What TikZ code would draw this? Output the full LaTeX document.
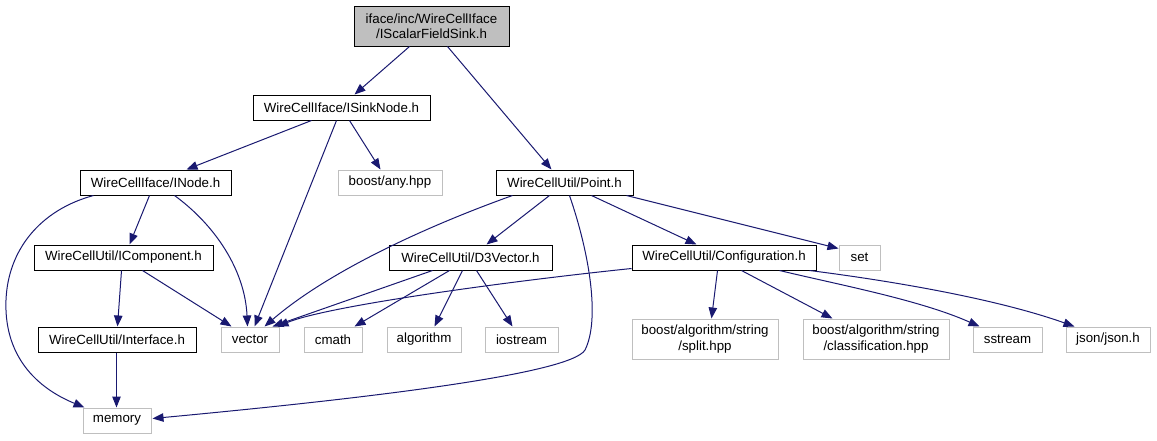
\documentclass[tikz,border=0pt]{standalone}
\usepackage{fontspec}
\setmainfont{Liberation Sans}
\usetikzlibrary{arrows.meta,calc}
\definecolor{edgeblue}{HTML}{191970}
\definecolor{boxgray}{HTML}{BFBFBF}
\tikzset{
  base/.style={inner sep=0pt, font=\fontsize{13.3}{15.5}\selectfont, align=center, fill=white},
  blk/.style={base, draw=black, line width=1pt},
  gry/.style={base, draw=boxgray, line width=1pt},
  topbox/.style={blk, fill=boxgray},
  dep/.style={draw=edgeblue, line width=1pt, -{Triangle[length=11pt,width=8.5pt]}, fill=none}
}
\begin{document}
\begin{tikzpicture}[x=1pt,y=-1pt]
\useasboundingbox (0,0) rectangle (1157,440);
% nodes (centre, size)
\node[topbox, minimum width=155pt, minimum height=40pt] (top) at (431.5,26) {iface/inc/WireCellIface\\/IScalarFieldSink.h};
\node[blk, minimum width=177pt, minimum height=25pt] (sink) at (341.5,107.5) {WireCellIface/ISinkNode.h};
\node[blk, minimum width=151pt, minimum height=25pt] (inode) at (155.5,182.5) {WireCellIface/INode.h};
\node[gry, minimum width=104pt, minimum height=25pt] (any) at (390,182.5) {boost/any.hpp};
\node[blk, minimum width=137pt, minimum height=25pt] (point) at (564.5,182.5) {WireCellUtil/Point.h};
\node[blk, minimum width=179pt, minimum height=25pt] (icomp) at (123.5,257.5) {WireCellUtil/IComponent.h};
\node[blk, minimum width=163pt, minimum height=25pt] (d3v) at (470.5,257.5) {WireCellUtil/D3Vector.h};
\node[blk, minimum width=184pt, minimum height=25pt] (conf) at (724,257.5) {WireCellUtil/Configuration.h};
\node[gry, minimum width=41pt, minimum height=25pt] (set) at (859.5,257.5) {set};
\node[blk, minimum width=158pt, minimum height=25pt] (iface) at (117,339.5) {WireCellUtil/Interface.h};
\node[gry, minimum width=58pt, minimum height=25pt] (vector) at (250,339.5) {vector};
\node[gry, minimum width=58pt, minimum height=25pt] (cmath) at (333,339.5) {cmath};
\node[gry, minimum width=74pt, minimum height=25pt] (algorithm) at (424,339.5) {algorithm};
\node[gry, minimum width=73pt, minimum height=25pt] (iostream) at (521.5,339.5) {iostream};
\node[gry, minimum width=146pt, minimum height=40pt] (split) at (705,339) {boost/algorithm/string\\/split.hpp};
\node[gry, minimum width=146pt, minimum height=40pt] (classif) at (876,339) {boost/algorithm/string\\/classification.hpp};
\node[gry, minimum width=69pt, minimum height=25pt] (sstream) at (1007.5,339.5) {sstream};
\node[gry, minimum width=84pt, minimum height=25pt] (json) at (1108,339.5) {json/json.h};
\node[gry, minimum width=68pt, minimum height=25pt] (memory) at (117,420.5) {memory};
% edges
\draw[dep] ($(top.south west)+(56,0)$) -- ($(sink.north west)+(102,0)$);
\draw[dep] ($(top.south west)+(94,0)$) -- ($(point.north west)+(56,0)$);
\draw[dep] ($(sink.south west)+(59,0)$) -- ($(inode.north west)+(107,0)$);
\draw[dep] ($(sink.south west)+(97,0)$) -- ($(any.north west)+(43,0)$);
\draw[dep] ($(sink.south west)+(84,0)$) -- ($(vector.north west)+(34,0)$);
\draw[dep] ($(inode.south west)+(70,0)$) -- ($(icomp.north west)+(96,0)$);
\draw[dep] ($(inode.south west)+(95,0)$) .. controls (215,225) and (245,270) .. ($(vector.north west)+(27,0)$);
\draw[dep] ($(inode.south west)+(14,0)$) .. controls (40,210) and (8,250) .. (6,300) .. controls (4,350) and (30,385) .. ($(memory.north west)+(2,0)$);
\draw[dep] ($(icomp.south west)+(88,0)$) -- ($(iface.north west)+(80,0)$);
\draw[dep] ($(icomp.south west)+(109,0)$) -- ($(vector.north west)+(11,0)$);
\draw[dep] ($(iface.south west)+(79,0)$) -- ($(memory.north west)+(34,0)$);
\draw[dep] ($(point.south west)+(17,0)$) .. controls (430,225) and (330,270) .. ($(vector.north west)+(44,0)$);
\draw[dep] ($(point.south west)+(54,0)$) -- ($(d3v.north west)+(98,0)$);
\draw[dep] ($(point.south west)+(74,0)$) .. controls (590,255) and (600,320) .. (585,350) .. controls (570,375) and (350,400) .. ($(memory.east)+(1,-2)$);
\draw[dep] ($(point.south west)+(96,0)$) -- ($(conf.north west)+(65,0)$);
\draw[dep] ($(point.south west)+(131,0)$) -- ($(set.north west)+(0,4)$);
\draw[dep] ($(d3v.south west)+(44,0)$) -- ($(vector.north west)+(52,0)$);
\draw[dep] ($(d3v.south west)+(61,0)$) -- ($(cmath.north west)+(51,0)$);
\draw[dep] ($(d3v.south west)+(74,0)$) -- ($(algorithm.north west)+(48,0)$);
\draw[dep] ($(d3v.south west)+(88,0)$) -- ($(iostream.north west)+(28,0)$);
\draw[dep] ($(conf.south west)+(0,-2)$) .. controls (520,280) and (330,305) .. ($(vector.north west)+(57,0)$);
\draw[dep] ($(conf.south west)+(86,0)$) -- ($(split.north west)+(80,0)$);
\draw[dep] ($(conf.south west)+(110,0)$) -- ($(classif.north west)+(30,0)$);
\draw[dep] ($(conf.south west)+(148,0)$) .. controls (840,285) and (920,300) .. ($(sstream.north west)+(7,0)$);
\draw[dep] ($(conf.south west)+(178,0)$) .. controls (900,282) and (1000,300) .. ($(json.north west)+(9,0)$);
\end{tikzpicture}
\end{document}
